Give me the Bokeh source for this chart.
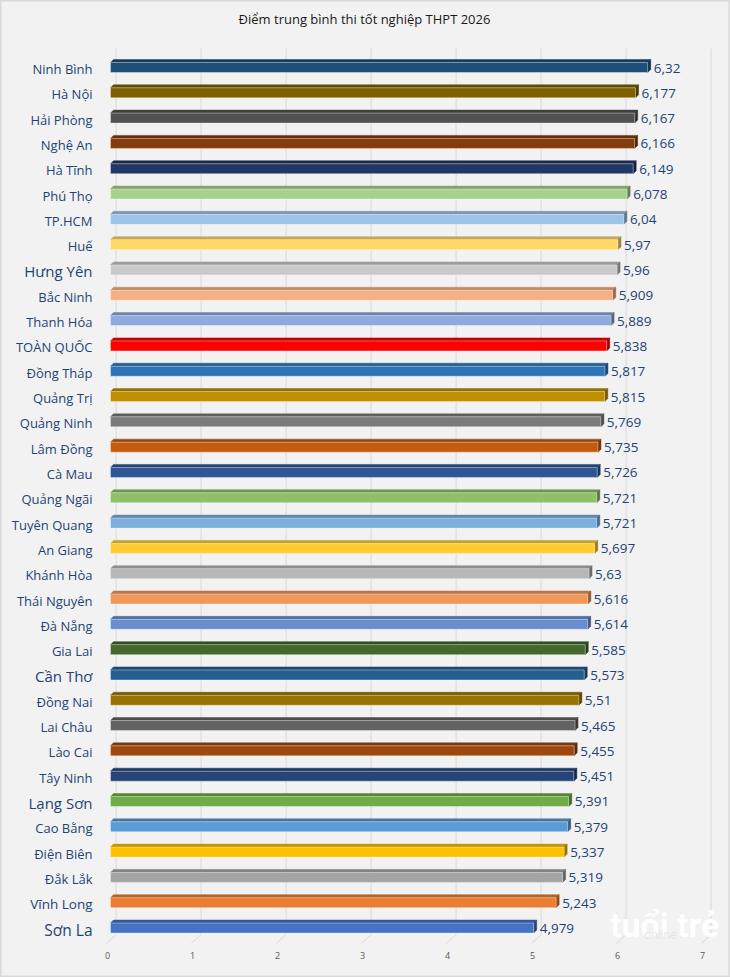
from bokeh.plotting import figure
from bokeh.models import Range1d, ColumnDataSource
from bokeh.core.properties import value
from bokeh.embed import file_html
from bokeh.resources import INLINE

# ---- data -------------------------------------------------------------
provinces = ["Ninh Bình", "Hà Nội", "Hải Phòng", "Nghệ An", "Hà Tĩnh", "Phú Thọ",
             "TP.HCM", "Huế", "Hưng Yên", "Bắc Ninh", "Thanh Hóa", "TOÀN QUỐC",
             "Đồng Tháp", "Quảng Trị", "Quảng Ninh", "Lâm Đồng", "Cà Mau",
             "Quảng Ngãi", "Tuyên Quang", "An Giang", "Khánh Hòa", "Thái Nguyên",
             "Đà Nẵng", "Gia Lai", "Cần Thơ", "Đồng Nai", "Lai Châu", "Lào Cai",
             "Tây Ninh", "Lạng Sơn", "Cao Bằng", "Điện Biên", "Đắk Lắk",
             "Vĩnh Long", "Sơn La"]
scores = [6.32, 6.177, 6.167, 6.166, 6.149, 6.078, 6.04, 5.97, 5.96, 5.909,
          5.889, 5.838, 5.817, 5.815, 5.769, 5.735, 5.726, 5.721, 5.721, 5.697,
          5.63, 5.616, 5.614, 5.585, 5.573, 5.51, 5.465, 5.455, 5.451, 5.391,
          5.379, 5.337, 5.319, 5.243, 4.979]
x_ticks = [0, 1, 2, 3, 4, 5, 6, 7]
title_text = "Điểm trung bình thi tốt nghiệp THPT 2026"

bar_colors = ["#1F4E79", "#7F6000", "#525252", "#843C0C", "#203864", "#A9D18E",
              "#9DC3E6", "#FFD966", "#C9C9C9", "#F4B183", "#8FAADC", "#FF0000",
              "#2E75B6", "#BF9000", "#7B7B7B", "#C55A11", "#2F5597", "#8CC168",
              "#7CAFDD", "#FFCD33", "#B7B7B7", "#F1975A", "#698ED0", "#43682B",
              "#255E91", "#997300", "#636363", "#9E480E", "#264478", "#70AD47",
              "#5B9BD5", "#FFC000", "#A5A5A5", "#ED7D31", "#4472C4"]
large_labels = {"Hưng Yên": "15px", "Cần Thơ": "15px", "Lạng Sơn": "15px",
                "Sơn La": "15.5px", "Vĩnh Long": "13.5px"}

# ---- geometry (pixels) ------------------------------------------------
W, H = 730, 977
PX = 85.0        # pixels per score unit
X0 = 110.0       # pixel of score 0
ROW = 25.31      # pixels between bars
Y0 = 66.0        # pixel centre of the first bar
DEPTH = 3.0      # 3D bar depth


def dx(px):
    return px / PX


def dy(px):
    return px / ROW


def ypx(p):
    return (p - Y0) / ROW


def shade(hex_color, k):
    h = hex_color.lstrip("#")
    r, g, b = (int(h[i:i + 2], 16) for i in (0, 2, 4))
    return "#%02x%02x%02x" % (int(r * k), int(g * k), int(b * k))


p = figure(width=W, height=H,
           x_range=Range1d(-X0 / PX, (W - X0) / PX),
           y_range=Range1d((H - Y0) / ROW, -Y0 / ROW),
           x_axis_type=None, y_axis_type=None,
           toolbar_location=None, output_backend="svg",
           min_border=0, min_border_left=0, min_border_right=0,
           min_border_top=0, min_border_bottom=0,
           background_fill_color="#f2f2f2", border_fill_color="#f2f2f2")
p.outline_line_color = "#d9d9d9"
p.outline_line_width = 2

# ---- gridlines with a 3D floor ----------------------------------------
g_off = dx(5.6)
p.segment(x0=[t + g_off for t in x_ticks], y0=[ypx(48)] * len(x_ticks),
          x1=[t + g_off for t in x_ticks], y1=[ypx(934)] * len(x_ticks),
          line_color="#d9d9d9", line_width=1)
p.segment(x0=[t + g_off for t in x_ticks], y0=[ypx(934)] * len(x_ticks),
          x1=[t - dx(4) for t in x_ticks], y1=[ypx(943)] * len(x_ticks),
          line_color="#d9d9d9", line_width=1)
p.text(x=[t - dx(3) for t in x_ticks], y=[ypx(955)] * len(x_ticks),
       text=[str(t) for t in x_ticks], text_font=value("Open Sans"),
       text_font_size="9px", text_color="#595959",
       text_align="center", text_baseline="middle")

# ---- 3D bars ----------------------------------------------------------
idx = list(range(len(provinces)))
front_top = [i + dy(-4) for i in idx]
front_bot = [i + dy(6) for i in idx]

src = ColumnDataSource(dict(
    y=[i + dy(1) for i in idx], right=scores, color=bar_colors,
    top_col=[shade(c, 0.78) for c in bar_colors],
    side_col=[shade(c, 0.6) for c in bar_colors],
))

# top faces
top_xs = [[0, v, v + dx(DEPTH), dx(DEPTH)] for v in scores]
top_ys = [[ft, ft, ft + dy(-DEPTH), ft + dy(-DEPTH)] for ft in front_top]
p.patches(xs=top_xs, ys=top_ys, fill_color=src.data["top_col"],
          line_color=src.data["top_col"], line_width=0.5)

# side faces
side_xs = [[v, v + dx(DEPTH), v + dx(DEPTH), v] for v in scores]
side_ys = [[ft, ft + dy(-DEPTH), fb + dy(-DEPTH), fb]
           for ft, fb in zip(front_top, front_bot)]
p.patches(xs=side_xs, ys=side_ys, fill_color=src.data["side_col"],
          line_color=src.data["side_col"], line_width=0.5)

# front faces
p.hbar(y="y", height=dy(10), left=0, right="right", source=src,
       fill_color="color", line_color="#ffffff", line_alpha=0.45, line_width=0.8)

# ---- labels -----------------------------------------------------------
value_text = [str(v).replace(".", ",") for v in scores]
p.text(x=[v + dx(DEPTH + 3) for v in scores], y=[i + dy(1.5) for i in idx],
       text=value_text, text_font=value("Open Sans"), text_font_size="13.5px",
       text_color="#1d4474", text_align="left", text_baseline="middle")

sizes = [large_labels.get(n, "13px") for n in provinces]
p.text(x=[dx(-18)] * len(provinces), y=[i + dy(2.5) for i in idx],
       text=provinces, text_font=value("Open Sans"), text_font_size=sizes,
       text_color="#1d4474", text_align="right", text_baseline="middle")

p.text(x=[dx(364 - X0)], y=[ypx(18)], text=[title_text],
       text_font=value("Open Sans"), text_font_size="13px", text_color="#1a1a1a",
       text_align="center", text_baseline="middle")

# publisher mark
p.text(x=[dx(664 - X0)], y=[ypx(924)], text=["tuổi trẻ"],
       text_font=value("Roboto"), text_font_style="bold", text_font_size="34px",
       text_color="#ffffff", text_alpha=0.95,
       text_align="center", text_baseline="middle")
p.text(x=[dx(660 - X0)], y=[ypx(934)], text=["online"],
       text_font=value("Roboto"), text_font_size="12px",
       text_color="#e6e6e6", text_alpha=0.95,
       text_align="center", text_baseline="middle")

open("out.html", "w").write(file_html(p, INLINE))
